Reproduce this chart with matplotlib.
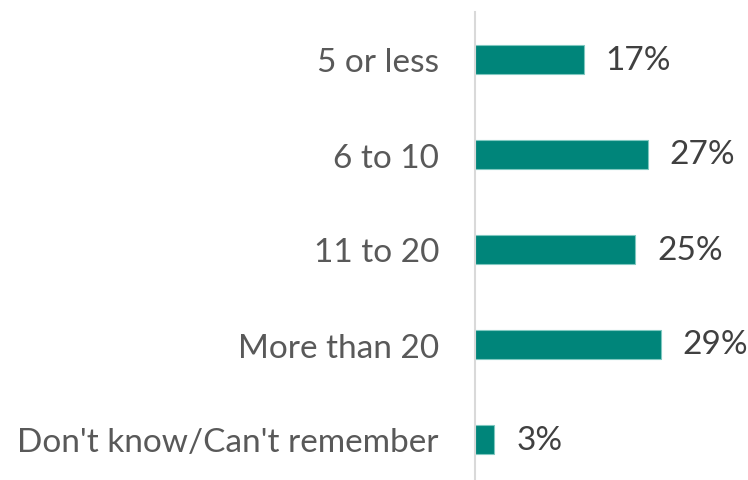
import matplotlib.pyplot as plt

categories = ['5 or less', '6 to 10', '11 to 20', 'More than 20', "Don't know/Can't remember"]
values = [17, 27, 25, 29, 3]

bar_color = '#00857A'
plt.rcParams['font.family'] = ['Lato', 'DejaVu Sans']

fig = plt.figure(figsize=(7.48, 4.81), dpi=100)
# axes placed in pixels: left at the axis line, 95 px per category
W, H = 748, 481
ax = fig.add_axes([475 / W, 1 - 488 / H, 1 - 475 / W, 475 / H])

y = list(range(len(categories)))
ax.barh(y, values, height=0.31, color=bar_color, edgecolor='#7fc8c0', linewidth=0.8)
ax.set_ylim(len(categories) - 0.5, -0.5)
ax.set_xlim(0, 273 / 6.4)

for yi, v in zip(y, values):
    ax.annotate(f'{v}%', (v, yi), xytext=(22, 0), textcoords='offset pixels',
                va='center', ha='left', fontsize=24, color='#404040')

ax.set_yticks(y)
ax.set_yticklabels(categories, fontsize=24, color='#595959')
ax.tick_params(axis='y', length=0, pad=26)
ax.set_xticks([])
for side in ['top', 'right', 'bottom']:
    ax.spines[side].set_visible(False)
ax.spines['left'].set_color('#d9d9d9')
ax.spines['left'].set_linewidth(1.5)

fig.savefig('out.png', dpi=100)
